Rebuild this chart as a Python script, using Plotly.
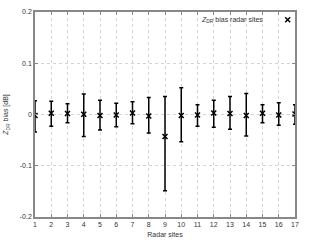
import plotly.graph_objects as go

sites = list(range(1, 18))
bias = [-0.002, 0.0025, 0.002, 0.0006, -0.002, -0.001, 0.003, -0.003, -0.043,
        -0.002, -0.001, 0.003, 0.002, -0.002, 0.0025, -0.001, 0.001]
upper = [0.027, 0.026, 0.021, 0.040, 0.028, 0.022, 0.025, 0.033, 0.035,
         0.052, 0.019, 0.028, 0.035, 0.041, 0.019, 0.023, 0.019]
lower = [-0.034, -0.023, -0.016, -0.043, -0.030, -0.024, -0.018, -0.036, -0.149,
         -0.053, -0.023, -0.025, -0.029, -0.042, -0.016, -0.021, -0.019]
y_ticks = [-0.2, -0.1, 0, 0.1, 0.2]
y_tick_labels = ["-0.2", "-0.1", "0", "0.1", "0.2"]
legend_label = "<i>Z</i><sub>DR</sub> bias radar sites"

err_plus = [u - b for u, b in zip(upper, bias)]
err_minus = [b - l for l, b in zip(lower, bias)]

fig = go.Figure()
fig.add_trace(go.Scatter(
    x=sites, y=bias, mode="markers",
    name=" ",
    marker=dict(symbol="x-thin", size=5, color="black", line=dict(width=1.5, color="black")),
    error_y=dict(type="data", symmetric=False, array=err_plus, arrayminus=err_minus,
                 color="black", thickness=1.5, width=2),
))

txt = "#333"
fig.add_annotation(text=legend_label, xref="paper", yref="paper", x=0.885, y=0.962,
                   xanchor="right", yanchor="middle", showarrow=False,
                   font=dict(size=7, color=txt))

fig.update_layout(
    width=320, height=244,
    margin=dict(l=35, r=7, t=5, b=27),
    paper_bgcolor="white", plot_bgcolor="white",
    font=dict(family="Liberation Sans, Arial, sans-serif", size=7, color=txt),
    showlegend=True,
    legend=dict(x=0.895, y=0.962, xanchor="left", yanchor="middle",
                bgcolor="rgba(0,0,0,0)", font=dict(size=7, color=txt),
                itemwidth=30, borderwidth=0),
    xaxis=dict(range=[1, 17], tickmode="array", tickvals=sites,
               showgrid=True, gridcolor="#d4d4d4", griddash="dot", gridwidth=1,
               zeroline=False, showline=True, linecolor="#888", linewidth=1.5, mirror="ticks",
               ticks="inside", ticklen=3, tickcolor="#888",
               title=dict(text="Radar sites", font=dict(size=7, color=txt), standoff=5)),
    yaxis=dict(range=[-0.2, 0.2], tickmode="array", tickvals=y_ticks, ticktext=y_tick_labels,
               showgrid=True, gridcolor="#d4d4d4", griddash="dot", gridwidth=1,
               zeroline=False, showline=True, linecolor="#888", linewidth=1.5, mirror="ticks",
               ticks="inside", ticklen=3, tickcolor="#888",
               title=dict(text="<i>Z</i><sub>DR</sub> bias [dB]", font=dict(size=7, color=txt), standoff=10)),
)

fig.write_html("out.html", config={"displayModeBar": False},
               post_script="document.body.style.margin='0';document.body.style.padding='0';")
